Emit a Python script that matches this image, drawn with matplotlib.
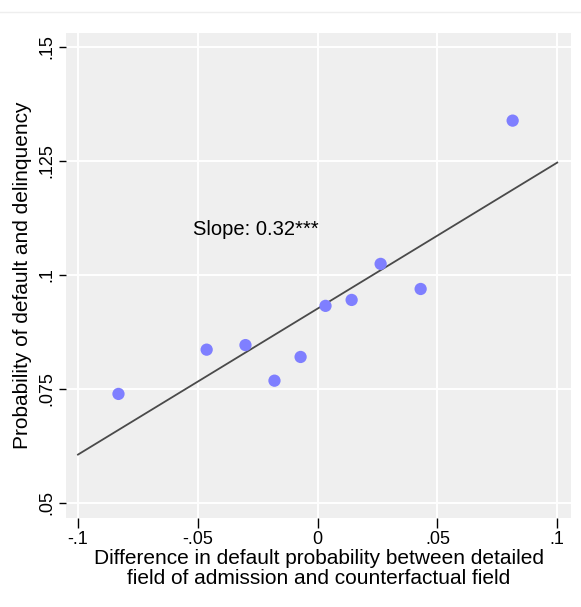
import numpy as np
import matplotlib
matplotlib.use('Agg')
from matplotlib import pyplot as plt
from matplotlib.lines import Line2D

# binned scatter: default-probability gap vs. realised default/delinquency
diff_default = [-0.0831, -0.0463, -0.0301, -0.0180, -0.0071, 0.0033, 0.0142, 0.0263, 0.0430, 0.0814]
prob_default = [0.0739, 0.0836, 0.0846, 0.0768, 0.0820, 0.0932, 0.0945, 0.1024, 0.0969, 0.1338]
fit_slope = 0.32
fit_intercept = 0.0926
x_ticks = [-0.1, -0.05, 0, 0.05, 0.1]
x_ticklabels = ['-.1', '-.05', '0', '.05', '.1']
y_ticks = [0.05, 0.075, 0.1, 0.125, 0.15]
y_ticklabels = ['.05', '.075', '.1', '.125', '.15']

plt.rcParams['font.family'] = ['Liberation Sans', 'DejaVu Sans']

fig = plt.figure(figsize=(5.81, 6.07), dpi=100)
ax = fig.add_axes([0.1136, 0.1466, 0.8694, 0.799])
ax.set_facecolor('#efefef')

fit_x = np.array([-0.1, 0.1])
ax.plot(fit_x, fit_intercept + fit_slope * fit_x, color='#4a4a4a', linewidth=1.3, zorder=2)
ax.scatter(diff_default, prob_default, s=78, color='#7f7fff', edgecolors='none', zorder=3)

ax.text(-0.0522, 0.1099, 'Slope: 0.32***', fontsize=14.5, ha='left', va='center')

ax.set_xlim(-0.105, 0.1058)
ax.set_ylim(0.0467, 0.153)
ax.set_xticks(x_ticks)
ax.set_xticklabels(x_ticklabels, fontsize=13)
ax.set_yticks(y_ticks)
ax.set_yticklabels(y_ticklabels, fontsize=13, rotation=90, va='center')
ax.tick_params(axis='x', length=7, width=1, pad=2)
ax.tick_params(axis='y', length=5, width=1, pad=3)
ax.grid(color='white', linewidth=1.4)
ax.set_axisbelow(True)
for spine in ax.spines.values():
    spine.set_visible(False)

ax.set_xlabel('Difference in default probability between detailed\nfield of admission and counterfactual field',
              fontsize=15, linespacing=1.05, labelpad=1)
ax.set_ylabel('Probability of default and delinquency', fontsize=15, labelpad=4)

fig.add_artist(Line2D([0, 1], [1 - 12 / 607.0] * 2, color='#eeeeee', linewidth=1))

fig.savefig('out.png', dpi=100)
